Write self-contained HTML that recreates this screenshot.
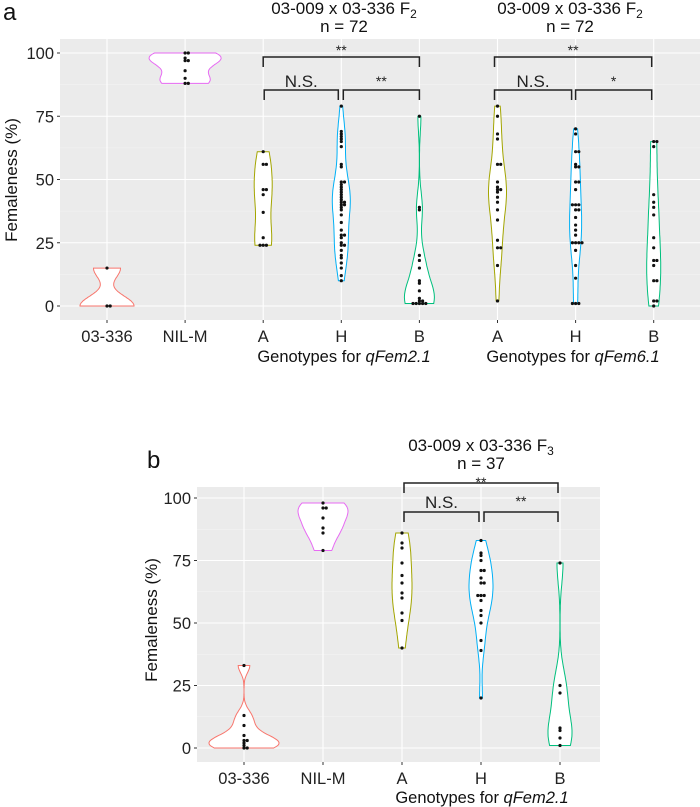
<!DOCTYPE html>
<html><head><meta charset="utf-8"><style>
body{margin:0;background:#fff}
svg{display:block;font-family:"Liberation Sans",Arial,sans-serif}
</style></head><body>
<svg id="fig" width="700" height="807" viewBox="0 0 700 807"></svg>
<script>
// ---- Panel a data (F2) ----
const catsA = ["03-336","NIL-M","A","H","B","A","H","B"];
const a_p336 = [0,0,15];
const a_nil = [100,100,98,97,97,93,90,88,88];
const a_A2 = [61,56,56,46,46,44,37,27,24,24,24];
const a_H2 = [79,69,68,67,66,65,63,56,55,49,49,48,47,46,45,44,43,42,41,41,40,40,39,38,36,33,30,28,28,27,25,24,24,22,20,19,17,15,12,10];
const a_B2 = [75,39,38,20,18,15,10,9,6,3,2,2,1,1,1,1,1];
const a_A6 = [79,75,68,66,56,56,49,47,46,46,45,43,41,38,34,26,23,23,16,2];
const a_H6 = [70,68,61,61,56,55,55,49,49,46,40,40,40,38,38,35,32,30,28,25,25,25,25,22,16,11,1,1,1];
const a_B6 = [65,65,63,44,41,39,36,27,23,18,18,16,10,10,2,2,0];
// ---- Panel b data (F3) ----
const catsB = ["03-336","NIL-M","A","H","B"];
const b_p336 = [33,13,9,5,3,3,2,1,0,0];
const b_nil = [98,96,96,92,88,86,79];
const b_A = [86,82,80,74,69,66,62,60,54,51,40];
const b_H = [83,78,77,75,71,71,68,66,66,61,61,61,59,55,53,50,43,39,20];
const b_B = [74,25,22,8,7,4,1];
const yTicks = [0,25,50,75,100];

const NS="http://www.w3.org/2000/svg";
const svg=document.getElementById('fig');
function mk(tag,attrs,parent,text){const e=document.createElementNS(NS,tag);for(const k in attrs)e.setAttribute(k,attrs[k]);if(text!==undefined)e.textContent=text;(parent||svg).appendChild(e);return e;}

function kde(vals){
  const n=vals.length, mean=vals.reduce((a,b)=>a+b,0)/n;
  const sd=Math.sqrt(vals.reduce((a,b)=>a+(b-mean)**2,0)/Math.max(1,n-1));
  const s=[...vals].sort((a,b)=>a-b);
  const q=p=>{const i=(n-1)*p,l=Math.floor(i),h=Math.ceil(i);return s[l]+(s[h]-s[l])*(i-l);};
  const iqr=(q(.75)-q(.25))/1.34;
  let bw=0.9*Math.min(sd,iqr>0?iqr:sd)*Math.pow(n,-0.2); if(!(bw>0))bw=2;
  const lo=s[0],hi=s[n-1],out=[];
  for(let i=0;i<=60;i++){const v=lo+(hi-lo)*i/60;let d=0;for(const x of vals)d+=Math.exp(-0.5*((v-x)/bw)**2);out.push([v,d]);}
  const m=Math.max(...out.map(o=>o[1]));return out.map(o=>[o[0],o[1]/m]);
}

function panel(cfg){
  const g=mk('g',{},svg);  
  const y=v=>cfg.y0+(cfg.y100-cfg.y0)*v/100;
  mk('rect',{x:cfg.left,y:cfg.top,width:cfg.right-cfg.left,height:cfg.bottom-cfg.top,fill:'#EBEBEB',},g);
  for(let v=12.5;v<100;v+=25) mk('line',{x1:cfg.left,x2:cfg.right,y1:y(v),y2:y(v),stroke:'#F5F5F5','stroke-width':0.6},g);
  yTicks.forEach(v=>{
    mk('line',{x1:cfg.left,x2:cfg.right,y1:y(v),y2:y(v),stroke:'#fff','stroke-width':1.1,},g);
    mk('line',{x1:cfg.left-3,x2:cfg.left,y1:y(v),y2:y(v),stroke:'#333','stroke-width':1},g);
    mk('text',{x:cfg.left-6,y:y(v)+6,'text-anchor':'end','font-size':16.5,fill:'#222',},g,String(v));
  });
  cfg.cats.forEach((c,i)=>{
    const x=cfg.x0+i*cfg.dx;
    mk('line',{x1:x,x2:x,y1:cfg.top,y2:cfg.bottom,stroke:'#fff','stroke-width':1.1,},g);
    mk('line',{x1:x,x2:x,y1:cfg.bottom,y2:cfg.bottom+3,stroke:'#333','stroke-width':1},g);
    mk('text',{x:x,y:cfg.bottom+22,'text-anchor':'middle','font-size':16.5,fill:'#222',},g,c);
  });
  cfg.groups.forEach((vals,i)=>{
    const x=cfg.x0+i*cfg.dx, w=cfg.widths[i], col=cfg.colors[i];
    const d=kde(vals);
    let p=d.map(o=>(x+o[1]*w).toFixed(1)+','+y(o[0]).toFixed(1));
    let p2=d.slice().reverse().map(o=>(x-o[1]*w).toFixed(1)+','+y(o[0]).toFixed(1));
    const vp=mk('polygon',{points:p.concat(p2).join(' '),fill:'#fff',stroke:col,'stroke-width':1},g);
    
    
    const seen={};
    vals.forEach(v=>{
      const k=Math.round(v); seen[k]=(seen[k]||0)+1; const c=seen[k]-1;
      const off=(c%2?1:-1)*Math.ceil(c/2)*3.2;
      const pt=mk('circle',{cx:x+off,cy:y(v),r:1.6,fill:'#111'},g);
      
      
    });
  });
  cfg.brackets.forEach(b=>{
    const x1=cfg.x0+b[0]*cfg.dx+b[4], x2=cfg.x0+b[1]*cfg.dx+b[5];
    const bl=mk('path',{d:`M${x1},${b[2]+10}V${b[2]}H${x2}V${b[2]+10}`,fill:'none',stroke:'#222','stroke-width':1.5},g);
    
    
    mk('text',{x:(x1+x2)/2,y:b[2]-b[6],'text-anchor':'middle','font-size':b[3]==='N.S.'?17:14,fill:'#222',},g,b[3]);
  });
}

const colors=['#F8766D','#E76BF3','#A3A500','#00B0F6','#00BF7D'];
panel({name:'panel-a',left:60,right:700,top:39,bottom:320,y0:306,y100:53,x0:107,dx:78.1,
  cats:catsA,groups:[a_p336,a_nil,a_A2,a_H2,a_B2,a_A6,a_H6,a_B6],
  colors:colors.concat(['#A3A500','#00B0F6','#00BF7D']),widths:[27,36,9,9,15,9,6,7],
  brackets:[[2,4,57,'**',0,0,2],[2,3,90,'N.S.',1,-3,3],[3,4,90,'**',2,0,4],[5,7,57,'**',-3,-2,2],[5,6,90,'N.S.',-3,-4,3],[6,7,90,'*',0,-2,4]]});
panel({name:'panel-b',left:197,right:600,top:487,bottom:762,y0:748,y100:498,x0:244,dx:79,
  cats:catsB,groups:[b_p336,b_nil,b_A,b_H,b_B],colors:colors,widths:[35,25,10,12,12],
  brackets:[[2,4,483,'**',2,-2,-4],[2,3,512,'N.S.',2,-2,4],[3,4,512,'**',3,-2,6]]});

// titles & labels
const T=(x,y,s,txt,name,extra)=>{const e=mk('text',Object.assign({x:x,y:y,'font-size':s,fill:'#111','text-anchor':'middle'},extra||{}));e.innerHTML=txt;return e;};
T(3,20,24,'a','panel-label-a',{'text-anchor':'start'});
T(147,468,24,'b','panel-label-b',{'text-anchor':'start'});
T(344,14,17,'03-009 x 03-336 F<tspan font-size="12" dy="4">2</tspan>','title-qfem2-1');
T(344,32,17,'n = 72','n-qfem2-1');
T(570,14,17,'03-009 x 03-336 F<tspan font-size="12" dy="4">2</tspan>','title-qfem6-1');
T(570,32,17,'n = 72','n-qfem6-1');
T(481,451,17,'03-009 x 03-336 F<tspan font-size="12" dy="4">3</tspan>','title-b');
T(481,469,17,'n = 37','n-b');
T(344,362,16.5,'Genotypes for <tspan font-style="italic">qFem2.1</tspan>','x-axis-title-qfem2-1');
T(573,362,16.5,'Genotypes for <tspan font-style="italic">qFem6.1</tspan>','x-axis-title-qfem6-1');
T(482,803,16.5,'Genotypes for <tspan font-style="italic">qFem2.1</tspan>','x-axis-title-b');
T(0,0,17,'Femaleness (%)','y-axis-title-a',{transform:'translate(17,180) rotate(-90)'});
T(0,0,17,'Femaleness (%)','y-axis-title-b',{transform:'translate(157,620) rotate(-90)'});
</script>
</body></html>
